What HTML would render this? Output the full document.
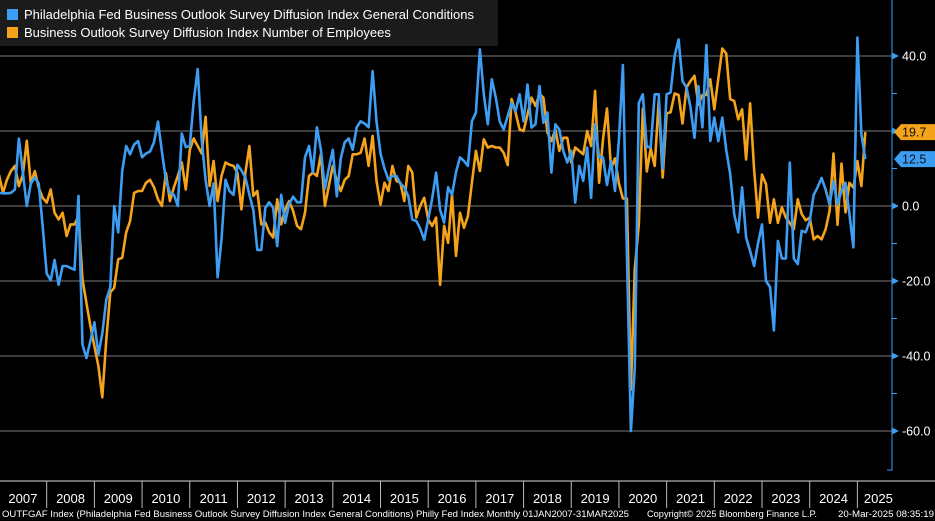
<!DOCTYPE html>
<html><head><meta charset="utf-8"><style>
html,body{margin:0;padding:0;background:#000;}
svg{display:block;font-family:"Liberation Sans",sans-serif;}
</style></head><body>
<svg id="chart" width="935" height="521" viewBox="0 0 935 521" xmlns="http://www.w3.org/2000/svg">
<rect x="0" y="0" width="935" height="521" fill="#000"/>
<g id="grid"></g>
<g id="series"></g>
<g id="axis"></g>
<g id="xaxis"></g>
<g>
<rect x="0" y="0" width="498" height="46" fill="#1b1b1b"/>
<rect x="7" y="9" width="11" height="11" fill="#3d9df3"/>
<text x="24" y="19" fill="#fff" font-size="13">Philadelphia Fed Business Outlook Survey Diffusion Index General Conditions</text>
<rect x="7" y="27" width="11" height="11" fill="#f5a31a"/>
<text x="24" y="37" fill="#fff" font-size="13">Business Outlook Survey Diffusion Index Number of Employees</text>
</g>
<text x="2" y="517" fill="#fff" font-size="9" textLength="627" lengthAdjust="spacingAndGlyphs">OUTFGAF Index (Philadelphia Fed Business Outlook Survey Diffusion Index General Conditions) Philly Fed Index  Monthly 01JAN2007-31MAR2025</text>
<text x="647" y="517" fill="#fff" font-size="9" textLength="170" lengthAdjust="spacingAndGlyphs">Copyright© 2025 Bloomberg Finance L.P.</text>
<text x="838" y="517" fill="#fff" font-size="9" textLength="96" lengthAdjust="spacingAndGlyphs">20-Mar-2025 08:35:19</text>
</svg>
<script>
const years = ["2007","2008","2009","2010","2011","2012","2013","2014","2015","2016","2017","2018","2019","2020","2021","2022","2023","2024","2025"];
const yTicks = [40,20,0,-20,-40,-60];
const yMinorTicks = [30,10,-10,-30,-50];
const generalConditions = [3.5,3.4,3.4,3.5,4.4,18,9,0,6,7.6,6,-5.5,
-18,-19.8,-14.4,-21,-16,-16,-16.5,-17,2.7,-37,-40.5,-36,
-31,-39.6,-34,-25,-21.6,0,-7,9.3,16,13.8,16.4,17.3,
13,14,14.5,17,22.5,14.5,7,3.5,3,0,19.3,15.7,
16,28,36.5,17.5,7,0,6,-19,-8.9,7,4,3,
11,9.5,7.6,3,-1,-11.7,-11.7,-0.5,1,-0.5,-10.7,3,
-4.5,0.5,2.5,1,1,13,16,9,21,15,4.6,10,
15,2.6,12.7,17,18,15,21,22.6,22,21,36,22.6,
14,10,7,8,8,6,5,2.6,-3.6,-4,-6,-9,
-3.6,2,8.9,-1,-4.4,5,3,9,13,12,10.7,22.6,
24.9,41.8,29.8,21.8,33.8,28.9,22.6,20.4,24,27.5,25.3,29.8,
22.6,32.4,20.9,21.8,32,22.2,24.9,8.9,21.8,20.4,14.7,11.6,
14.7,0.9,10.7,6.7,15.6,2.2,21.8,13,13,5.6,12,4,
17.6,37.6,-12.7,-60,-43,27.5,29.8,15.7,15.7,29.8,29.8,10,
29.8,30.3,40,44.4,33.3,31.6,26.3,18.2,32,21,42.9,17.3,
23.6,17.3,23.6,15,8.5,-2.1,-7,5,-8.4,-12,-16,-10,
-4.9,-20,-21.6,-33.2,-9.3,-14,-14,11.6,-14,-15.5,-6.6,-7,
-4,3,5,7.5,4.4,0.4,6.6,0.4,4,6.2,-2.1,-11,
44.9,19.1,12.5];
const employees = [8.3,3.5,7,9.3,10.7,5.3,8.3,17.4,6,9.3,4.9,2.2,
0.9,4.4,-1.8,-3.6,-1.8,-8,-4.9,-4.9,-2.7,-19.6,-25.8,-32,
-37.4,-42.7,-51,-35.6,-23,-21.8,-14.2,-13.8,-7,-4,3.5,4,
4,6.2,7,5,1.8,0,8.8,1.3,5,8,11.6,4.4,
15,18,16,14,23.8,5.3,12,1.3,8,11.6,11,10.7,
8.9,-0.9,8.9,16,2.7,4,-4.9,-4.4,-7,-8.4,1.8,-4.9,
-0.9,1.3,-1.3,-5.3,-6.2,-1.8,8,8.9,8,13.8,0,5.3,
10.7,6.7,4,7,8,13.8,13.8,14.2,18,10.7,18.7,6.7,
0.4,6.2,4,10.7,6.7,6.2,1.3,10.7,8.9,-3.1,0,2.2,
-3.6,-5.3,-3.1,-21,-5.3,-9.8,3,-13.3,-1.8,-5.8,-2.7,6.2,
14.7,9.3,17.8,15.6,16,15.6,15.6,14.2,10.9,28.5,24.9,20.4,
20,24.4,28.9,26.7,29.8,28.9,19.6,17.3,20.4,14.7,18.2,18.2,
11.6,15.6,14.7,13.8,20,16,30.7,6.2,17.8,26,10,12.7,
6,2,2,-49,-16.7,-5,26,9.2,15.3,10.7,28,7.6,
24.7,25,30,29.6,22,31.6,33.3,34.7,27,29.6,29.6,33.8,
25.8,34,42,40.7,28.5,28,23.1,25.8,12.4,27.4,9.8,-3.1,
8.4,5.8,-4.5,1.8,-4.5,-0.4,-3.1,-4.5,-6.2,1.8,-2.1,-3.8,
-3.1,-8.9,-8,-8.9,-6.2,-1.3,14,-5,11.3,-1.7,6.2,4.9,
12,5.3,19.7];

const NS="http://www.w3.org/2000/svg";
const PLOT_RIGHT=892, ZERO_Y=206, PX_PER_UNIT=3.75, X0=-1, MONTH_W=3.974;
function yScale(v){return ZERO_Y - v*PX_PER_UNIT;}
function xScale(i){return X0 + i*MONTH_W;}
function mk(tag,attrs,parent){const e=document.createElementNS(NS,tag);for(const k in attrs)e.setAttribute(k,attrs[k]);parent.appendChild(e);return e;}

const grid=document.getElementById('grid');
const axis=document.getElementById('axis');
const xaxis=document.getElementById('xaxis');
const series=document.getElementById('series');

yTicks.forEach(t=>{
  const y=yScale(t);
  const g=mk('line',{x1:0,x2:PLOT_RIGHT,y1:y,y2:y,stroke:'#7a7a7a','stroke-width':1},grid);
  
  
  const tri=mk('polygon',{points:`${PLOT_RIGHT},${y-3.5} ${PLOT_RIGHT+7},${y} ${PLOT_RIGHT},${y+3.5}`,fill:'#3d9df3'},axis);
  
  
  const lb=mk('text',{x:PLOT_RIGHT+10,y:y+4.5,fill:'#fff','font-size':12.5},axis);
  lb.textContent=t.toFixed(1);
  
  
});
yMinorTicks.forEach(t=>{
  const y=yScale(t);
  const m=mk('line',{x1:PLOT_RIGHT,x2:PLOT_RIGHT+5,y1:y,y2:y,stroke:'#3d9df3','stroke-width':1},axis);
  
  
});
const al=mk('polyline',{points:`${PLOT_RIGHT},0 ${PLOT_RIGHT},470 ${PLOT_RIGHT-5},470`,fill:'none',stroke:'#3d9df3','stroke-width':1},axis);



// x axis
const xl=mk('line',{x1:0,x2:935,y1:481,y2:481,stroke:'#ddd','stroke-width':1},xaxis);


years.forEach((yr,k)=>{
  const xs=xScale(k*12), xe=xScale((k+1)*12);
  if(k>0){
    const s=mk('line',{x1:xs,x2:xs,y1:481,y2:508,stroke:'#bbb','stroke-width':1},xaxis);
    
    
  }
  const cx = k===years.length-1 ? xs+21 : (xs+xe)/2;
  const t=mk('text',{x:cx,y:503,fill:'#fff','font-size':13,'text-anchor':'middle'},xaxis);
  t.textContent=yr;
  
  
});

function drawLine(vals,color,name){
  const pts=vals.map((v,i)=>xScale(i).toFixed(1)+','+yScale(v).toFixed(1)).join(' ');
  const p=mk('polyline',{points:pts,fill:'none',stroke:color,'stroke-width':2.6,'stroke-linejoin':'round'},series);
  
  
}
drawLine(employees,'#f5a31a','employees-line');
drawLine(generalConditions,'#3d9df3','general-conditions-line');

function tag(v,color,name){
  const y=yScale(v);
  const g=mk('polygon',{points:`${PLOT_RIGHT+2},${y} ${PLOT_RIGHT+9},${y-8} 935,${y-8} 935,${y+8} ${PLOT_RIGHT+9},${y+8}`,fill:color},axis);
  
  
  const t=mk('text',{x:PLOT_RIGHT+10,y:y+4.5,fill:'#111','font-size':12.5},axis);
  t.textContent=v.toFixed(1);
  
  
}
tag(employees[employees.length-1],'#f5a31a','employees');
tag(generalConditions[generalConditions.length-1],'#3d9df3','general-conditions');
</script>
</body></html>
